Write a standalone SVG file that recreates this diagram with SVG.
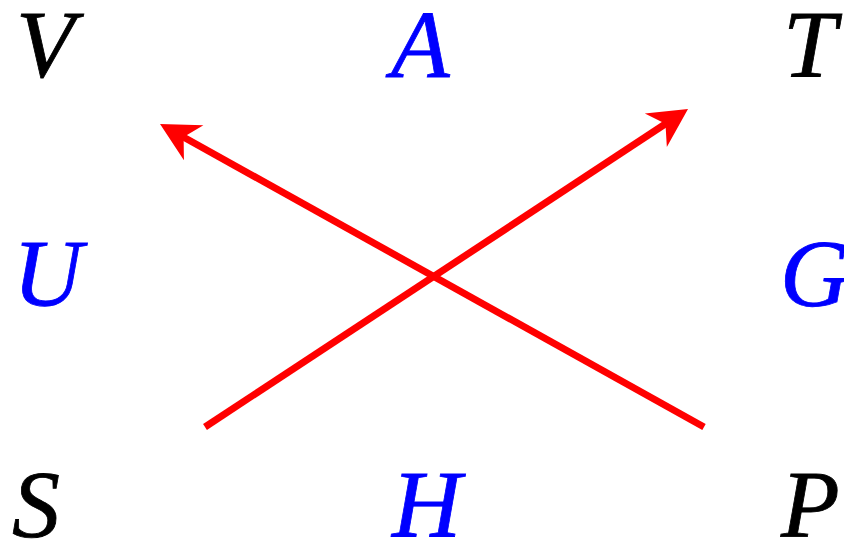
<svg xmlns="http://www.w3.org/2000/svg" width="844" height="542" viewBox="0 0 844 542">
<style>
text{font-family:"Liberation Serif","Times New Roman",serif;font-style:italic;font-size:96px;stroke-width:0.8}
.k{fill:#000;stroke:#000}
.b{fill:#0000ff;stroke:#0000ff}
.e{stroke:#ff0000;stroke-width:7;fill:none}
</style>
<defs>
<marker id="ah" markerUnits="userSpaceOnUse" viewBox="-40 -22 42 44" markerWidth="42" markerHeight="44" refX="-20" refY="0" orient="auto">
<path d="M0,0 L-38.5,-20 L-27,0 L-38.5,20 Z" fill="#ff0000"/>
</marker>
</defs>
<rect width="844" height="542" fill="#fff"/>
<g id="V"><text class="k" x="16" y="77">V</text></g>
<g id="A"><text class="b" x="391" y="77">A</text></g>
<g id="T"><text class="k" x="783" y="77">T</text></g>
<g id="U"><text class="b" x="13" y="306">U</text></g>
<g id="G"><text class="b" x="780" y="306">G</text></g>
<g id="S"><text class="k" x="12" y="537">S</text></g>
<g id="H"><text class="b" x="392" y="537">H</text></g>
<g id="P"><text class="k" x="781" y="537">P</text></g>
<g id="connectors">
<line class="e" x1="704" y1="427" x2="177.5" y2="133.7" marker-end="url(#ah)"/>
<line class="e" x1="205" y1="427" x2="671.3" y2="120" marker-end="url(#ah)"/>
</g>
</svg>
